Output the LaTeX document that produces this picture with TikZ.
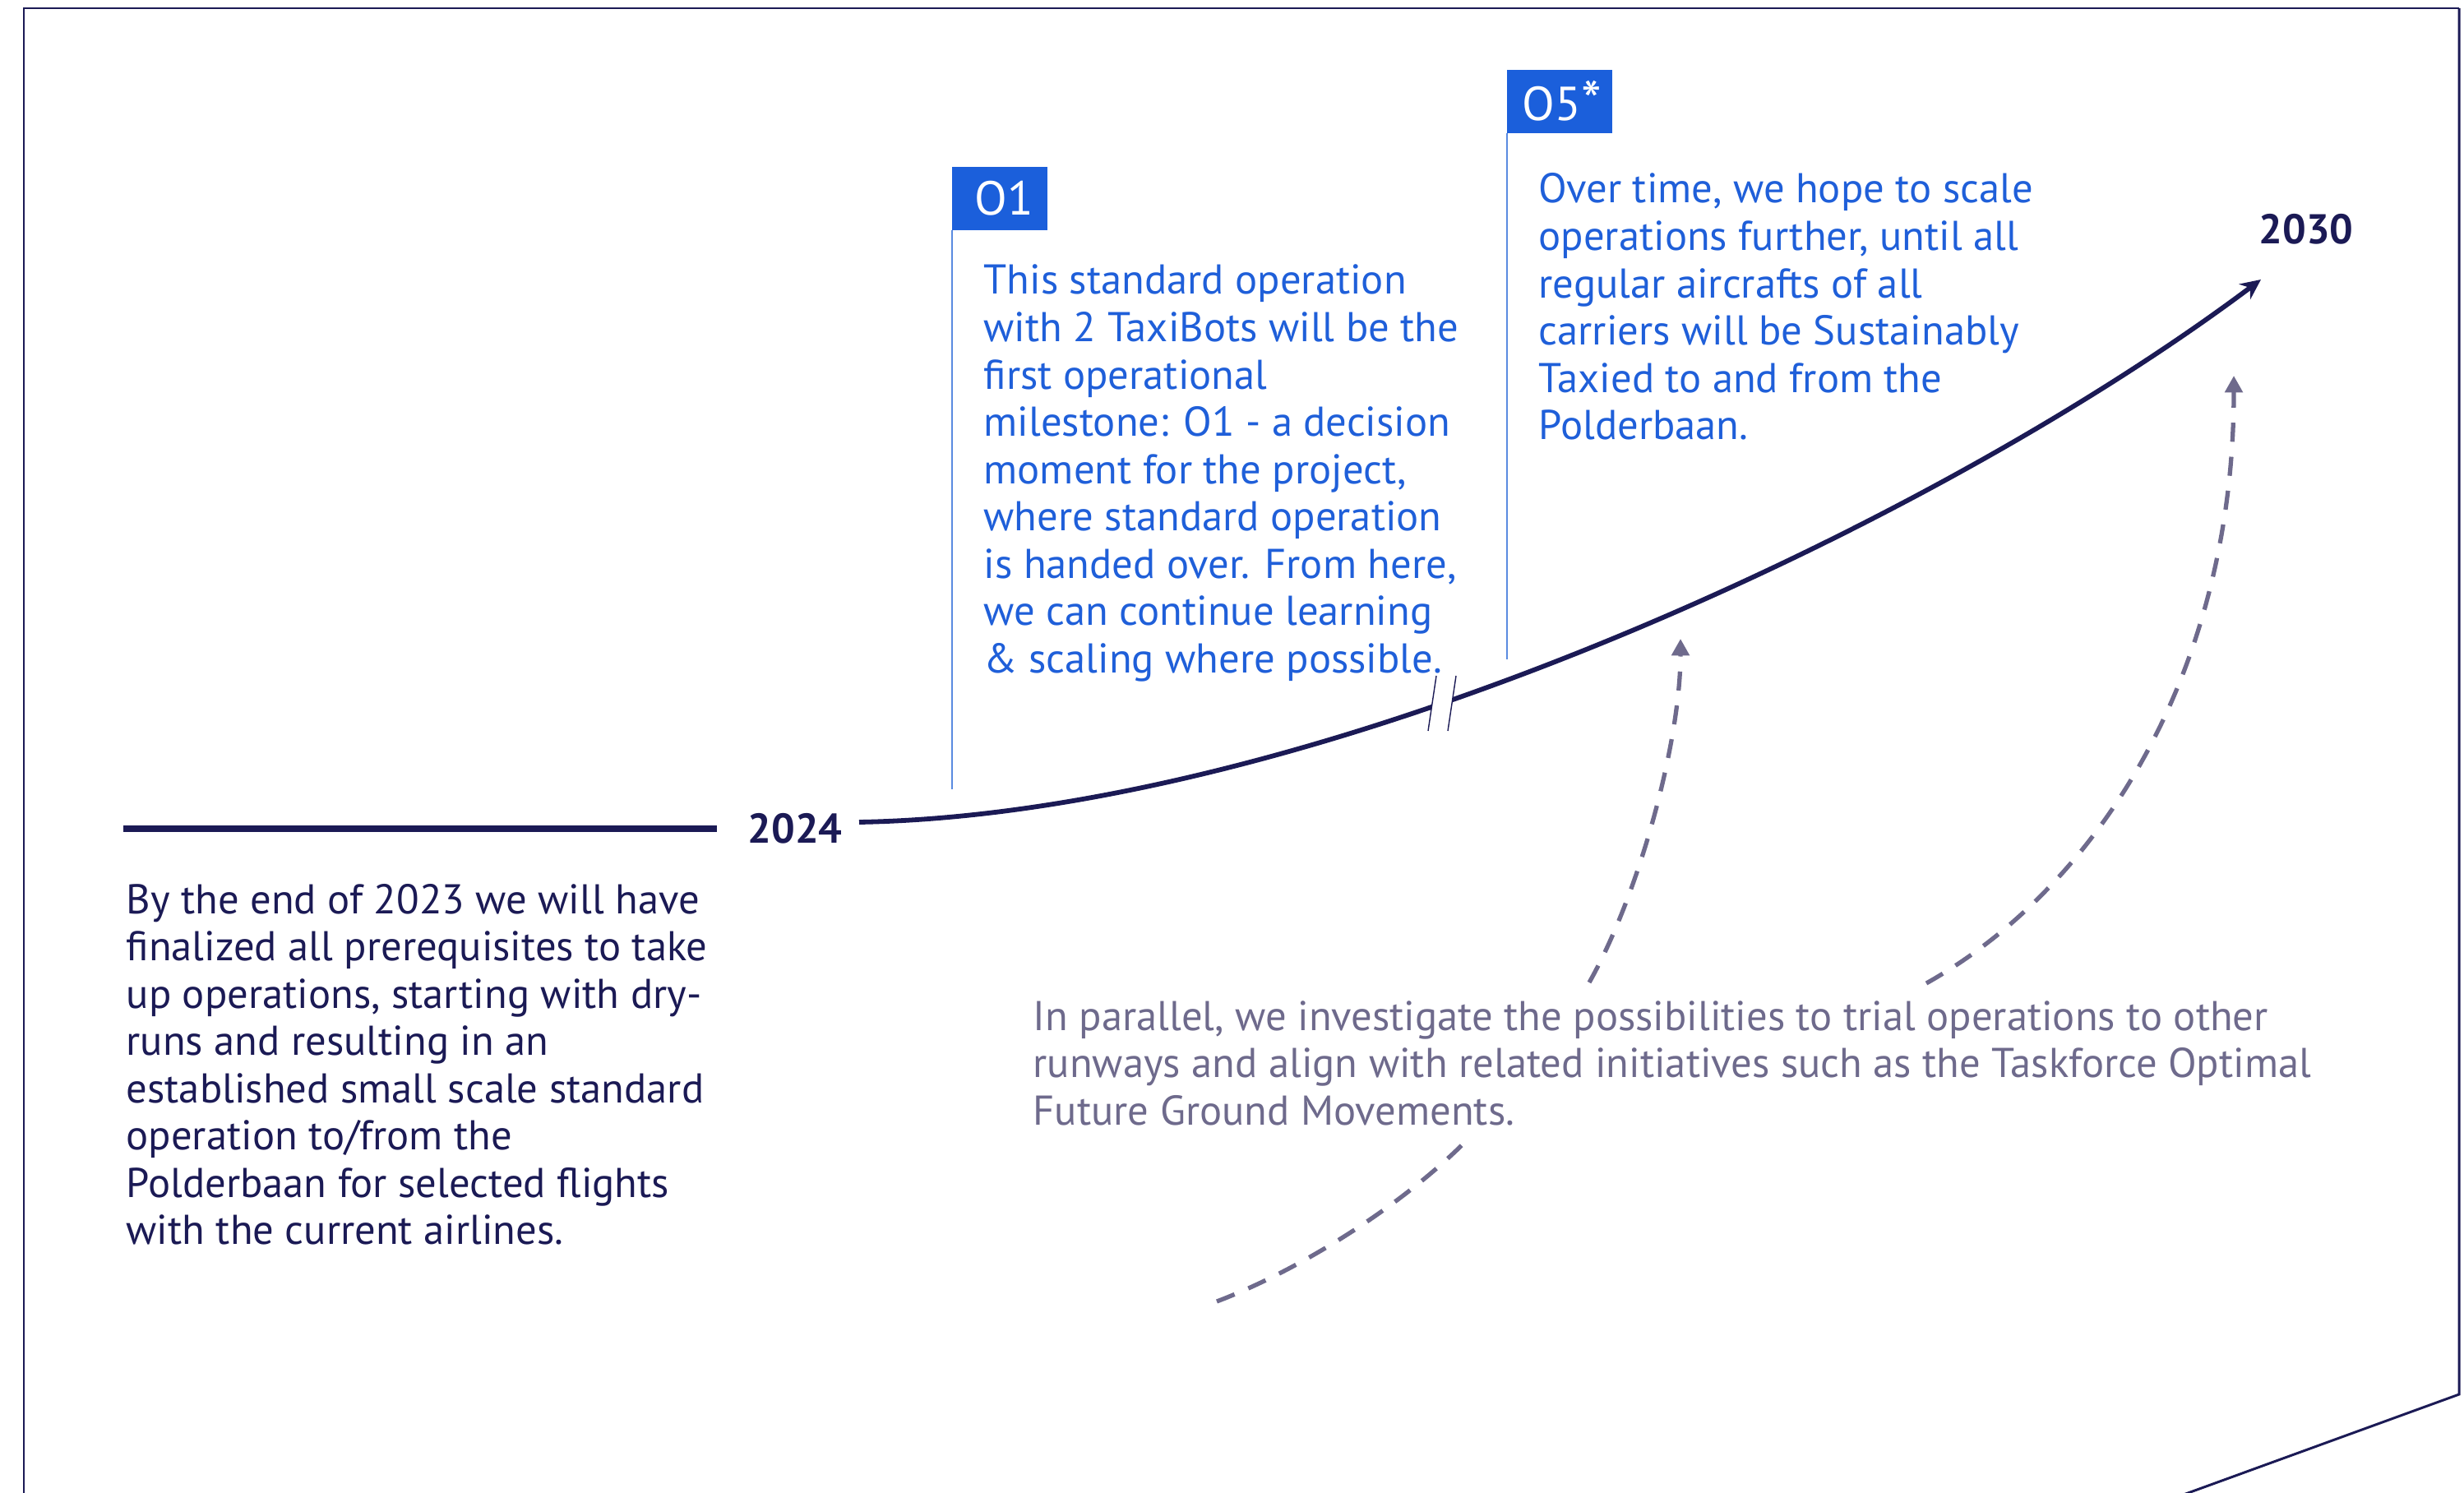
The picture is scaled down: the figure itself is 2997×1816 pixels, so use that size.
\documentclass[tikz,border=0pt]{standalone}
\usepackage{fontspec}
\setmainfont{PT Sans}
\usetikzlibrary{arrows.meta}
\definecolor{navy}{HTML}{1B1A55}
\definecolor{tblue}{HTML}{1F5FD9}
\definecolor{boxblue}{HTML}{1B5FDB}
\definecolor{lblue}{HTML}{5A8BE0}
\definecolor{dgray}{HTML}{6E6A8C}
\newcommand{\paralines}[1]{\begin{tabular}[t]{@{}l@{}}#1\end{tabular}}
\tikzset{
  frameline/.style={draw=navy, line width=0.6pt},
  body/.style={inner sep=0pt, anchor=base west, font=\fontsize{14.4pt}{16.36pt}\selectfont},
  yearlbl/.style={inner sep=0pt, text=navy, anchor=base west, font=\fontsize{14.4pt}{16.36pt}\selectfont\bfseries},
  tagbox/.style={fill=boxblue, text=white, inner xsep=0pt, inner ysep=0pt, minimum height=0.77cm, align=left, font=\fontsize{16.5pt}{18pt}\selectfont, anchor=north west},
  vline/.style={draw=lblue, line width=0.55pt},
  dasharrow/.style={draw=dgray, line width=1.5pt, dash pattern=on 6.6pt off 5.2pt},
  dtip/.style={-{Triangle[length=5.8pt,width=6pt]}},
}
\begin{document}
\begin{tikzpicture}[x=0.01cm, y=-0.01cm]
\useasboundingbox (0,0) rectangle (2997,1816);
\clip (0,0) rectangle (2997,1816);
% frame
\draw[frameline] (29,1830) -- (29,10) -- (2991,10);
\draw[draw=navy, line width=0.85pt] (2991,10) -- (2991,1696) -- (2620,1831);

% timeline
\node[yearlbl] (y2024) at (909,1025) {2024};
\node[yearlbl] (y2030) at (2747,297) {2030};
\coordinate (lstart) at (150,1008);
\coordinate (lend) at (872,1008);
\coordinate (cstart) at (1045,1000);
\coordinate (cend) at (2750,340);
\draw[navy, line width=2pt] (lstart) -- (lend);
\draw[navy, line width=1.65pt, -{Stealth[length=7pt,width=6.5pt]}] (cstart) .. controls (1600,990) and (2350,640) .. (cend);
% break marks
\fill[white] (1747,816) -- (1771,816) -- (1761,895) -- (1737,895) -- cycle;
\draw[navy, line width=0.4pt] (1747,822) -- (1737,889);
\draw[navy, line width=0.4pt] (1771,822) -- (1761,889);

% milestone O1
\node[tagbox, minimum width=1.16cm, text width=1.0cm] (o1) at (1157,202) {\hspace*{0.2cm}O1};
\draw[vline] ([xshift=0.01cm]o1.south west) -- ++(0,680);
\node[body, text=tblue] (t1) at (1196,358) {\paralines{This standard operation\\with 2 TaxiBots will be the\\first operational\\milestone: O1 - a decision\\moment for the project,\\where standard operation\\is handed over. From here,\\we can continue learning\\\& scaling where possible.}};

% milestone O5*
\node[tagbox, minimum width=1.28cm, text width=1.2cm] (o5) at (1832,84) {\hspace*{0.15cm}O5\raisebox{-0.5pt}{\fontsize{20pt}{20pt}\selectfont *}};
\draw[vline] ([xshift=0.01cm]o5.south west) -- ++(0,640);
\node[body, text=tblue] (t5) at (1871,247) {\paralines{Over time, we hope to scale\\operations further, until all\\regular aircrafts of all\\carriers will be Sustainably\\Taxied to and from the\\Polderbaan.}};

% left text
\node[body, text=navy] (t0) at (153,1111) {\paralines{By the end of 2023 we will have\\finalized all prerequisites to take\\up operations, starting with dry-\\runs and resulting in an\\established small scale standard\\operation to/from the\\Polderbaan for selected flights\\with the current airlines.}};

% parallel text
\node[body, text=dgray] (tp) at (1256,1253) {\paralines{In parallel, we investigate the possibilities to trial operations to other\\runways and align with related initiatives such as the Taskforce Optimal\\Future Ground Movements.}};

% dashed arrows
\coordinate (d0s) at (1480,1583);
\coordinate (d0e) at (1780,1391);
\draw[dasharrow] (d0s) .. controls (1580,1545) and (1700,1470) .. (d0e);
\coordinate (d1s) at (1933,1195);
\coordinate (d1e) at (2044,777);
\draw[dasharrow, dtip] (d1s) .. controls (1995,1085) and (2044,900) .. (d1e);
\coordinate (d2s) at (2343,1196);
\coordinate (d2e) at (2717,457);
\draw[dasharrow, dtip] (d2s) .. controls (2550,1080) and (2717,820) .. (d2e);
\end{tikzpicture}
\end{document}
